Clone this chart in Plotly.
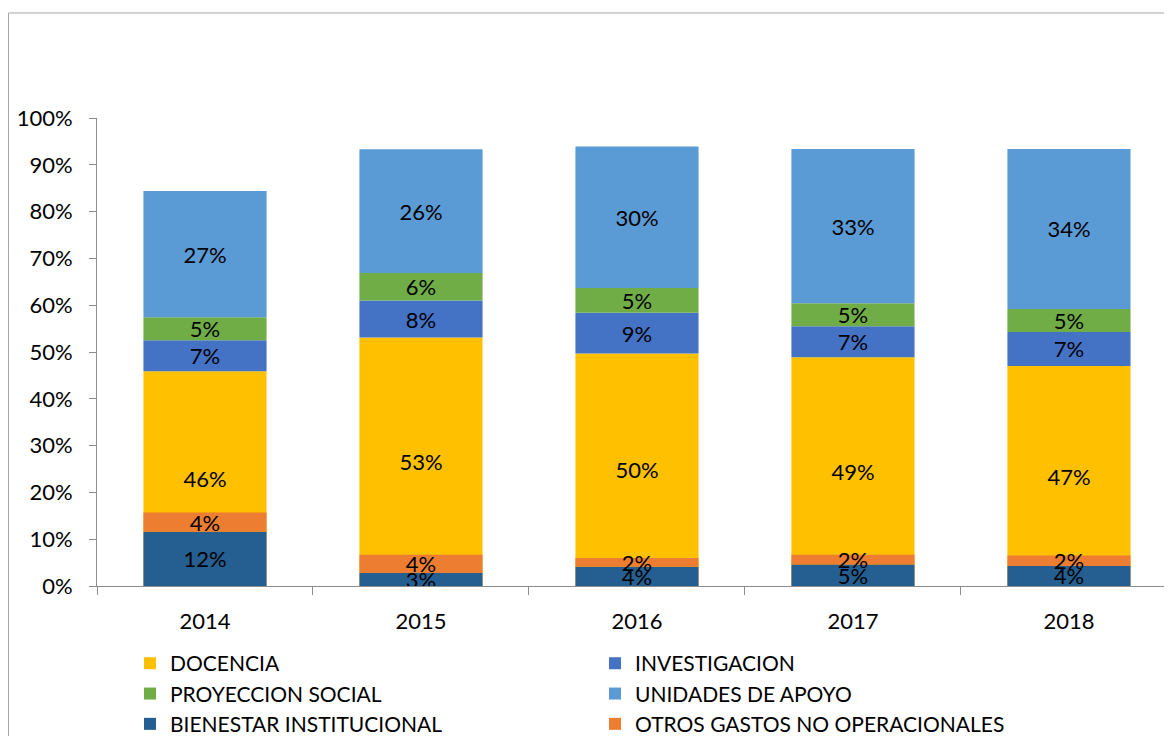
import numpy as np
import plotly.graph_objects as go

years = ["2014", "2015", "2016", "2017", "2018"]

# shares
docencia = [0.459, 0.531, 0.497, 0.489, 0.470]
investigacion = [0.066, 0.079, 0.087, 0.066, 0.073]
proyeccion = [0.049, 0.059, 0.053, 0.049, 0.049]
unidades = [0.270, 0.264, 0.302, 0.330, 0.342]
bienestar = [0.116, 0.028, 0.041, 0.046, 0.043]
otros = [0.041, 0.039, 0.019, 0.021, 0.022]

FONT = "Lato"


def pct(vals):
    return [f"{round(v * 100)}%" for v in vals]


def bar(name, vals, base, color, rank):
    return go.Bar(
        name=name, x=years, y=vals, base=base,
        marker=dict(color=color, line=dict(width=0)),
        text=pct(vals), textposition="inside", insidetextanchor="middle",
        textangle=0, textfont=dict(color="black", size=22, family=FONT),
        legendrank=rank, hoverinfo="skip",
    )


# main stack starts at zero with DOCENCIA, the two small series sit in front of it
stack = [("DOCENCIA", docencia, "#FFC000", 1),
         ("INVESTIGACION", investigacion, "#4472C4", 2),
         ("PROYECCION SOCIAL", proyeccion, "#70AD47", 3),
         ("UNIDADES DE APOYO", unidades, "#5B9BD5", 4)]
front = [("BIENESTAR INSTITUCIONAL", bienestar, "#255E91", 5),
         ("OTROS GASTOS NO OPERACIONALES", otros, "#ED7D31", 6)]

fig = go.Figure()
for group in (stack, front):
    base = np.zeros(len(years))
    for name, vals, color, rank in group:
        fig.add_trace(bar(name, vals, base.copy(), color, rank))
        base = base + np.array(vals)

# page body adds 8px, so the figure is 8px smaller each way
fig.update_layout(
    width=1164, height=728,
    barmode="overlay", bargap=0.43,
    paper_bgcolor="white", plot_bgcolor="white",
    margin=dict(l=89, r=0, t=110, b=150, autoexpand=False),
    font=dict(family=FONT, size=22, color="black"),
    uniformtext=dict(minsize=22, mode="show"),
    legend=dict(
        orientation="h", x=0.0307, xanchor="left", y=-0.122, yanchor="top",
        entrywidth=420, entrywidthmode="pixels",
        font=dict(size=21, family=FONT), traceorder="normal",
    ),
    shapes=[dict(type="rect", xref="paper", yref="paper",
                 x0=-0.0823, x1=1.05, y0=-0.5, y1=1.2244,
                 line=dict(color="#A6A6A6", width=1))],
)
fig.update_xaxes(
    type="category", range=[-0.5, 4.477],
    showline=True, linecolor="#8C8C8C", linewidth=1,
    ticks="outside", tickson="boundaries", ticklen=8, tickcolor="#8C8C8C",
    ticklabelstandoff=16, showgrid=False,
)
fig.update_yaxes(
    range=[0, 1], dtick=0.1, tickformat=".0%",
    showline=True, linecolor="#8C8C8C", linewidth=1,
    ticks="outside", ticklen=7, tickcolor="#8C8C8C",
    ticklabelstandoff=12, showgrid=False, zeroline=False,
)

fig.write_html("out.html")
